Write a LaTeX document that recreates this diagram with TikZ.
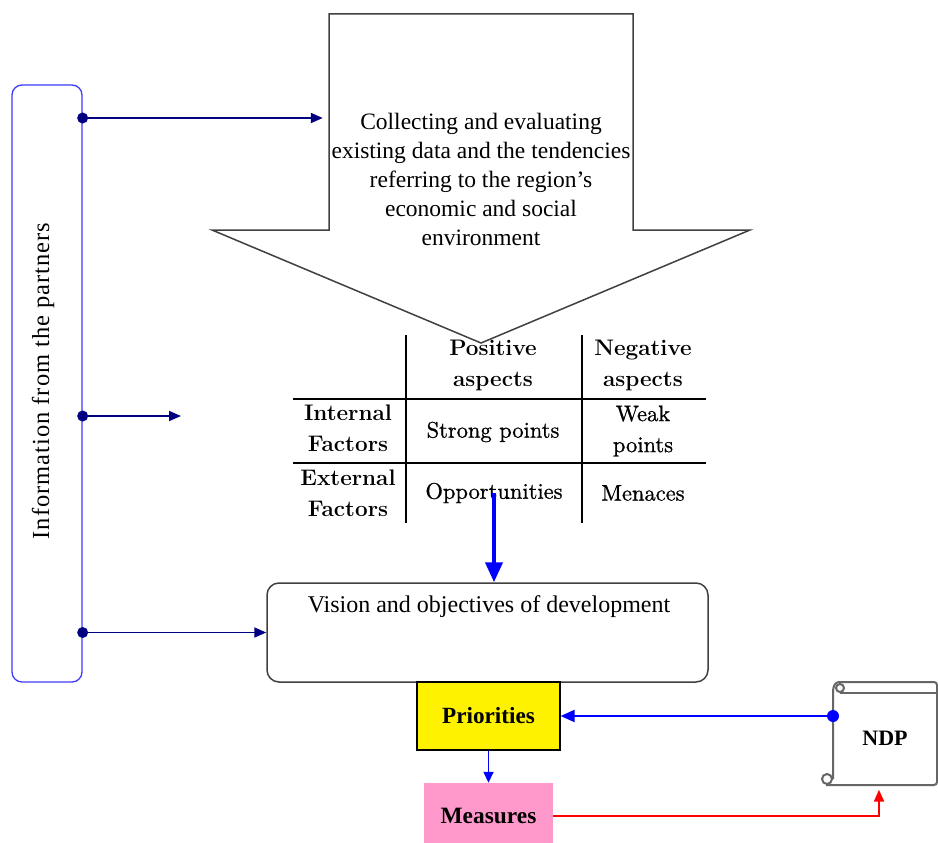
\documentclass[tikz,border=0pt]{standalone}
\usepackage{fontspec}
\newfontfamily\tnr{Liberation Serif}
\newfontfamily\tnrsp[LetterSpace=4]{Liberation Serif}
\newfontfamily\tabrm{lmroman10-regular.otf}[FakeBold=0.8]
\usetikzlibrary{arrows.meta}
\definecolor{navyc}{RGB}{0,0,128}
\definecolor{infoc}{RGB}{60,60,255}
\definecolor{grayc}{RGB}{64,64,64}
\definecolor{pinkc}{RGB}{255,153,204}
\definecolor{bluec}{RGB}{0,0,255}
\definecolor{redc}{RGB}{255,0,0}
\tikzset{
  navyarrow/.style={draw=navyc, line width=1.8pt, -{Triangle[length=12pt,width=10pt]}},
  navydot/.style={fill=navyc},
  tabtext/.style={font=\tabrm\fontsize{22.5}{31}\selectfont, align=center, inner sep=0pt},
  tabhead/.style={font=\fontsize{22.5}{31}\selectfont\bfseries, align=center, inner sep=0pt},
  tabline/.style={draw=black, line width=1.5pt},
  scrollline/.style={draw=grayc!80, line width=2pt},
}
\begin{document}
\begin{tikzpicture}[x=1pt,y=-1pt]
\useasboundingbox (0,0) rectangle (938,843);
\fill[white] (0,0) rectangle (938,843);

% info box
\node[draw=infoc, line width=1.3pt, rounded corners=10pt, minimum width=70pt, minimum height=597pt, inner sep=0pt] (info) at (47,383.5) {};
\node[rotate=90, font=\tnrsp\fontsize{24.5}{29}\selectfont, inner sep=0pt] (infotxt) at (43,381) {Information from the partners};

% big arrow
\draw[draw=grayc, line width=1.5pt, fill=white, line join=miter]
  (329,14) -- (633,14) -- (633,230) -- (750,230) -- (481,343) -- (212,230) -- (329,230) -- cycle;
\node[minimum width=304pt, minimum height=216pt, inner sep=0pt] (shaft) at (481,122) {};
\node[font=\tnr\fontsize{23.5}{29}\selectfont, align=center, inner sep=0pt] (collect) at (481,179)
  {Collecting and evaluating\\existing data and the tendencies\\referring to the region’s\\economic and social\\environment};

% table
\draw[tabline] (406,335) -- (406,523);
\draw[tabline] (582,335) -- (582,523);
\draw[tabline] (293,399) -- (706,399);
\draw[tabline] (293,463) -- (706,463);
\node[tabhead] (pos) at (493,365.5) {Positive\\aspects};
\node[tabhead] (neg) at (643,365.5) {Negative\\aspects};
\node[tabhead] (intf) at (348,428.5) {Internal\\Factors};
\node[tabhead] (extf) at (348,493.5) {External\\Factors};
\node[tabtext] (strong) at (493,432) {Strong points};
\node[tabtext] (weak) at (643,431) {Weak\\points};
\node[tabtext] (opp) at (494,493) {Opportunities};
\node[tabtext] (men) at (643,493) {Menaces};

% vision box
\node[draw=grayc, line width=1.5pt, rounded corners=12pt, minimum width=441pt, minimum height=99pt, inner sep=0pt] (vision) at (487.5,632.5) {};
\node[font=\tnr\fontsize{24}{29}\selectfont, inner sep=0pt] (visiontxt) at (489,607) {Vision and objectives of development};

% priorities and measures
\node[draw=black, line width=1.2pt, fill=yellow, minimum width=143pt, minimum height=68pt, inner sep=0pt, font=\tnr\bfseries\fontsize{23.2}{28}\selectfont] (prio) at (488.5,716) {Priorities};
\node[fill=pinkc, minimum width=129pt, minimum height=66pt, inner sep=0pt, font=\tnr\bfseries\fontsize{23.4}{28}\selectfont] (meas) at (488.5,816) {Measures};

% NDP scroll
\draw[scrollline, rounded corners=3pt] (833,779) -- (833,688) -- (836,682) -- (937,682) -- (937,785) -- (826,785);
\draw[scrollline] (840,693) -- (937,693);
\draw[scrollline] (840,688) circle (4pt);
\draw[scrollline] (827,779) circle (5pt);
\node[minimum width=104pt, minimum height=103pt, inner sep=0pt, font=\tnr\bfseries\fontsize{22}{26}\selectfont] (ndp) at (885,738) {NDP};

% connectors
\coordinate (d1) at (info.east |- 0,118);
\coordinate (d2) at (info.east |- 0,416);
\coordinate (d3) at (info.east |- vision.west);
\coordinate (free2) at (181,416);
\draw[navyarrow, shorten >=6pt] (d1) -- (shaft.west |- d1);
\draw[navyarrow] (d2) -- (free2);
\draw[navyarrow] (d3) -- (vision.west);
\fill[navydot] (d1) circle (5.5pt);
\fill[navydot] (d2) circle (5.5pt);
\fill[navydot] (d3) circle (5.5pt);

\draw[draw=bluec, line width=4pt, -{Triangle[length=20pt,width=17pt]}] (opp.center) -- (opp.center |- vision.north);
\draw[draw=bluec, line width=1.5pt, -{Triangle[length=11pt,width=10pt]}] (prio.south) -- (meas.north);
\coordinate (ndpdot) at (833,716);
\draw[draw=bluec, line width=2pt, -{Triangle[length=14pt,width=12pt]}] (ndpdot) -- (prio.east);
\fill[bluec] (ndpdot) circle (6pt);
\draw[draw=redc, line width=2pt, -{Triangle[length=12pt,width=10pt]}] (meas.east) -| ([xshift=-6pt]ndp.south);
\end{tikzpicture}
\end{document}
